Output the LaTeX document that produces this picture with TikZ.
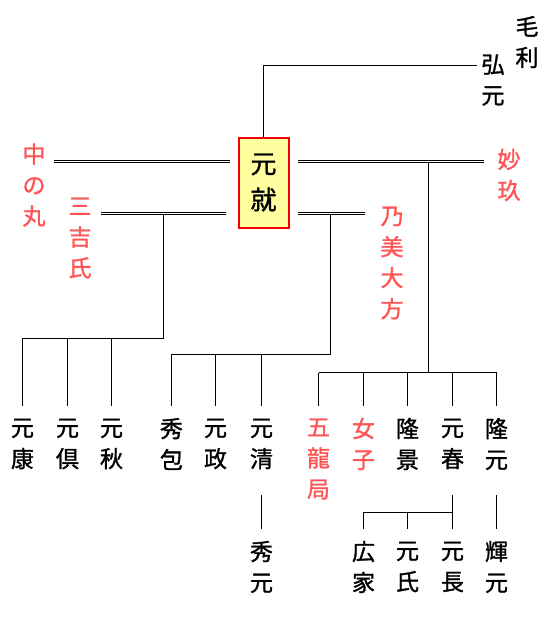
\documentclass[tikz,border=0pt]{standalone}
\usepackage{fontspec}
\newfontfamily\cjk[FakeBold=1.2]{Noto Sans CJK JP}
\definecolor{redtxt}{RGB}{255,85,85}
\definecolor{boxfill}{RGB}{255,255,160}
\definecolor{boxline}{RGB}{240,0,0}
\begin{document}
\begin{tikzpicture}[x=1pt,y=-1pt,line width=1pt,
  nm/.style={font=\cjk\fontsize{23}{31}\selectfont,align=center,inner sep=0pt},
  fm/.style={nm,text=redtxt},
  dbl/.style={double=white,double distance=1pt,line width=1pt}]
\fill[white] (0,0) rectangle (557,619);
\useasboundingbox (0,0) rectangle (557,619);
% levels
\coordinate (lvA) at (0,406);
\coordinate (lvB) at (0,495);
\coordinate (lvC) at (0,529);
\coordinate (y1) at (0,161.5);
\coordinate (y2) at (0,213.5);
\coordinate (hA) at (0,338.5);
\coordinate (hB) at (0,354.5);
\coordinate (hC) at (0,372.5);
\coordinate (hD) at (0,512.5);
% nodes
\node[nm] (mouri) at (527,42) {毛\\利};
\node[nm] (hiromoto) at (493,80) {弘\\元};
\node[nm,draw=boxline,line width=2pt,fill=boxfill,minimum width=50pt,minimum height=90pt,
  font=\cjk\fontsize{26}{36}\selectfont] (motonari) at (263.5,182.5) {元\\就};
\node[fm] (naka) at (34,185) {中\\の\\丸};
\node[fm] (miyoshi) at (80,238) {三\\吉\\氏};
\node[fm] (myokyu) at (509,175) {妙\\玖};
\node[fm] (nomi) at (392,263) {乃\\美\\大\\方};
\node[nm] (motoyasu) at (22.5,444) {元\\康};
\node[nm] (mototomo) at (67.5,444) {元\\倶};
\node[nm] (motoaki) at (111.5,444) {元\\秋};
\node[nm] (hidekane) at (171.5,444) {秀\\包};
\node[nm] (motomasa) at (215.5,444) {元\\政};
\node[nm] (motokiyo) at (261.5,444) {元\\清};
\node[fm] (goryu) at (318.5,459) {五\\龍\\局};
\node[fm] (joshi) at (363.5,444) {女\\子};
\node[nm] (takakage) at (407.5,444) {隆\\景};
\node[nm] (motoharu) at (452.5,444) {元\\春};
\node[nm] (takamoto) at (496.5,444) {隆\\元};
\node[nm] (hidemoto) at (261.5,567) {秀\\元};
\node[nm] (hiroie) at (363.5,567) {広\\家};
\node[nm] (motouji) at (407.5,567) {元\\氏};
\node[nm] (motonaga) at (452.5,567) {元\\長};
\node[nm] (terumoto) at (496.5,567) {輝\\元};
% father
\coordinate (topR) at (477,65.5);
\draw (motonari.north) |- (topR);
% marriages
\draw[dbl,shorten <=8pt,shorten >=8pt] (naka.east |- y1) -- (motonari.west |- y1);
\draw[dbl,shorten <=8.5pt,shorten >=12pt] (miyoshi.east |- y2) -- (motonari.west |- y2);
\draw[dbl,shorten <=8pt,shorten >=13.5pt] (motonari.east |- y1) -- (myokyu.west |- y1);
\draw[dbl,shorten <=8pt,shorten >=15.5pt] (motonari.east |- y2) -- (nomi.west |- y2);
% group A
\coordinate (mA) at (163.5,213.5);
\draw (mA) |- (motoyasu.north |- hA) -- (motoyasu.north |- lvA);
\draw (mototomo.north |- hA) -- (mototomo.north |- lvA);
\draw (motoaki.north |- hA) -- (motoaki.north |- lvA);
% group B
\coordinate (mB) at (330.5,213.5);
\draw (mB) |- (hidekane.north |- hB) -- (hidekane.north |- lvA);
\draw (motomasa.north |- hB) -- (motomasa.north |- lvA);
\draw (motokiyo.north |- hB) -- (motokiyo.north |- lvA);
% group C
\coordinate (mC) at (428.5,161.5);
\draw (mC) -- (mC |- hC);
\draw (goryu.north |- hC) -- (takamoto.north |- hC);
\draw (goryu.north |- hC) -- (goryu.north |- lvA);
\draw (joshi.north |- hC) -- (joshi.north |- lvA);
\draw (takakage.north |- hC) -- (takakage.north |- lvA);
\draw (motoharu.north |- hC) -- (motoharu.north |- lvA);
\draw (takamoto.north |- hC) -- (takamoto.north |- lvA);
% second generation
\draw (motokiyo.south |- lvB) -- (hidemoto.north |- lvC);
\draw (motoharu.south |- lvB) -- (motonaga.north |- lvC);
\draw (hiroie.north |- lvC) |- (motoharu.south |- hD);
\draw (motouji.north |- hD) -- (motouji.north |- lvC);
\draw (takamoto.south |- lvB) -- (terumoto.north |- lvC);
\end{tikzpicture}
\end{document}
